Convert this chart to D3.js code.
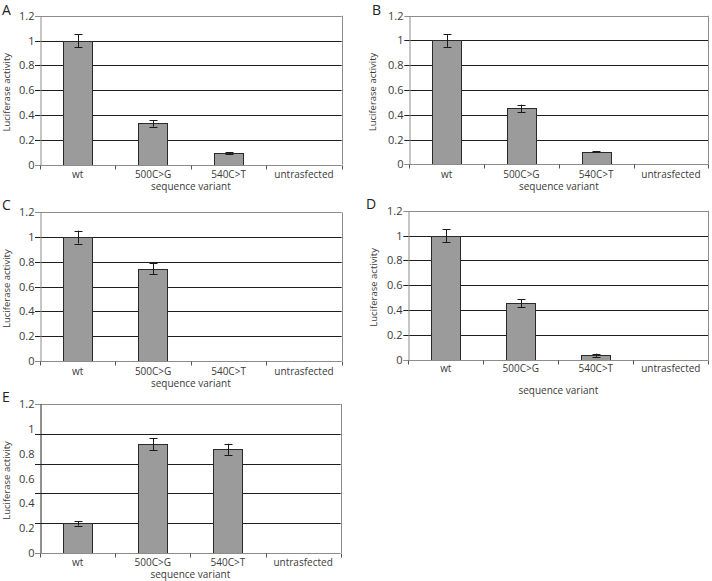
<!DOCTYPE html>
<html>
<head>
<meta charset="utf-8">
<script src="https://cdn.jsdelivr.net/npm/d3@7"></script>
<style>
  html, body { margin: 0; padding: 0; background: #fff; }
  svg { display: block; }
  text { font-family: "Open Sans", "Noto Sans", sans-serif; }
</style>
</head>
<body>
<svg id="chart" width="712" height="581"></svg>
<script>
const categories = ["wt", "500C>G", "540C>T", "untrasfected"];
const yTickValues = [0, 0.2, 0.4, 0.6, 0.8, 1, 1.2];
const yTickLabels = ["0", "0.2", "0.4", "0.6", "0.8", "1", "1.2"];
const gridStandard = [0.2, 0.4, 0.6, 0.8, 1.0];
const gridE = [0.24, 0.48, 0.72, 0.96];

const valuesA = [1.0, 0.333, 0.092, 0];
const errorsA = [0.052, 0.027, 0.009, 0];
const valuesB = [1.0, 0.452, 0.102, 0];
const errorsB = [0.052, 0.03, 0.004, 0];
const valuesC = [1.0, 0.745, 0, 0];
const errorsC = [0.052, 0.045, 0, 0];
const valuesD = [1.0, 0.456, 0.038, 0];
const errorsD = [0.052, 0.032, 0.013, 0];
const valuesE = [0.238, 0.875, 0.835, 0];
const errorsE = [0.017, 0.048, 0.045, 0];

const xTitle = "sequence variant";
const yTitle = "Luciferase activity";

const panels = [
  { letter: "A", values: valuesA, errors: errorsA, grid: gridStandard,
    box: { l: 40, r: 341.7, t: 15.7, b: 164.7 }, letterPos: [2, 15], yLabX: 6, catY: 178, titleY: 190 },
  { letter: "B", values: valuesB, errors: errorsB, grid: gridStandard,
    box: { l: 409.3, r: 708.3, t: 15.7, b: 164.3 }, letterPos: [372, 15], yLabX: 372, catY: 178, titleY: 190 },
  { letter: "C", values: valuesC, errors: errorsC, grid: gridStandard,
    box: { l: 40, r: 341.7, t: 212.3, b: 361 }, letterPos: [2, 210], yLabX: 6, catY: 375, titleY: 387 },
  { letter: "D", values: valuesD, errors: errorsD, grid: gridStandard,
    box: { l: 408.3, r: 708.3, t: 210.7, b: 360 }, letterPos: [366, 209], yLabX: 373, catY: 372, titleY: 394 },
  { letter: "E", values: valuesE, errors: errorsE, grid: gridE,
    box: { l: 40, r: 340.7, t: 404, b: 553 }, letterPos: [2, 402], yLabX: 6, catY: 566, titleY: 578 }
];

const svg = d3.select("#chart");
const textColor = "#3a3a3a";
const axisGray = "#8c8c8c";

panels.forEach(p => {
  const g = svg.append("g");
  const bx = p.box;
  const x = d3.scaleBand().domain(categories).range([bx.l, bx.r]).padding(0);
  const y = d3.scaleLinear().domain([0, 1.2]).range([bx.b, bx.t]);
  const bw = x.bandwidth() * 0.39;

  g.selectAll(".grid").data(p.grid).join("line")
    .attr("x1", bx.l - 5).attr("x2", bx.r)
    .attr("y1", d => Math.round(y(d)) + 0.5).attr("y2", d => Math.round(y(d)) + 0.5)
    .attr("stroke", "#1e1e1e").attr("stroke-width", 1);

  g.append("line").attr("x1", bx.l - 5).attr("x2", bx.r)
    .attr("y1", Math.round(bx.t) + 0.5).attr("y2", Math.round(bx.t) + 0.5)
    .attr("stroke", axisGray);
  g.append("line").attr("x1", Math.round(bx.r) + 0.5).attr("x2", Math.round(bx.r) + 0.5)
    .attr("y1", bx.t).attr("y2", bx.b)
    .attr("stroke", axisGray);

  const data = categories.map((c, i) => ({ c, v: p.values[i], e: p.errors[i] }));
  g.selectAll(".bar").data(data.filter(d => d.v > 0)).join("rect")
    .attr("x", d => Math.round(x(d.c) + x.bandwidth() / 2 - bw / 2) + 0.5)
    .attr("y", d => Math.round(y(d.v)) + 0.5)
    .attr("width", Math.round(bw))
    .attr("height", d => Math.round(y(0)) - Math.round(y(d.v)))
    .attr("fill", "#9b9b9b").attr("stroke", "#2a2a2a").attr("stroke-width", 1);

  const eb = g.selectAll(".err").data(data.filter(d => d.e > 0)).join("g");
  const cx = d => Math.round(x(d.c) + x.bandwidth() / 2) + 0.5;
  eb.append("line").attr("x1", cx).attr("x2", cx)
    .attr("y1", d => y(d.v + d.e)).attr("y2", d => y(d.v - d.e))
    .attr("stroke", "#1a1a1a");
  eb.append("line").attr("x1", d => cx(d) - 4).attr("x2", d => cx(d) + 4)
    .attr("y1", d => Math.round(y(d.v + d.e)) + 0.5).attr("y2", d => Math.round(y(d.v + d.e)) + 0.5)
    .attr("stroke", "#1a1a1a");
  eb.append("line").attr("x1", d => cx(d) - 4).attr("x2", d => cx(d) + 4)
    .attr("y1", d => Math.round(y(d.v - d.e)) + 0.5).attr("y2", d => Math.round(y(d.v - d.e)) + 0.5)
    .attr("stroke", "#1a1a1a");

  const yAxis = d3.axisLeft(y).tickValues(yTickValues)
    .tickFormat((d, i) => yTickLabels[i]).tickSize(0).tickPadding(6);
  const ya = g.append("g").attr("transform", `translate(${Math.round(bx.l) + 0.5},0)`).call(yAxis);
  ya.select(".domain").attr("stroke", p.letter === "E" ? "#222" : axisGray);
  ya.selectAll("text").attr("fill", textColor).attr("font-size", 11).attr("font-family", "'Open Sans', sans-serif");
  g.append("line").attr("x1", bx.l - 5).attr("x2", bx.l)
    .attr("y1", Math.round(y(0)) + 0.5).attr("y2", Math.round(y(0)) + 0.5).attr("stroke", axisGray);

  const xa = g.append("g").attr("transform", `translate(0,${Math.round(bx.b) + 0.5})`);
  xa.append("line").attr("x1", bx.l).attr("x2", bx.r).attr("stroke", axisGray);
  const bounds = categories.map(c => x(c)).concat([bx.r]);
  xa.selectAll(".tk").data(bounds).join("line")
    .attr("x1", d => Math.round(d) + 0.5).attr("x2", d => Math.round(d) + 0.5)
    .attr("y1", 0).attr("y2", 4).attr("stroke", "#555");
  g.selectAll(".cat").data(categories).join("text")
    .attr("x", d => x(d) + x.bandwidth() / 2).attr("y", p.catY)
    .attr("text-anchor", "middle").attr("font-size", 10).attr("fill", textColor)
    .text(d => d);

  g.append("text").attr("x", (bx.l + bx.r) / 2).attr("y", p.titleY)
    .attr("text-anchor", "middle").attr("font-size", 10).attr("fill", textColor).text(xTitle);
  g.append("text")
    .attr("transform", `translate(${p.yLabX + 4},${(bx.t + bx.b) / 2 + 2}) rotate(-90)`)
    .attr("text-anchor", "middle").attr("font-size", 9.5).attr("fill", textColor).text(yTitle);

  g.append("text").attr("x", p.letterPos[0]).attr("y", p.letterPos[1])
    .attr("font-size", 14).attr("fill", "#222").text(p.letter);
});
</script>
</body>
</html>
